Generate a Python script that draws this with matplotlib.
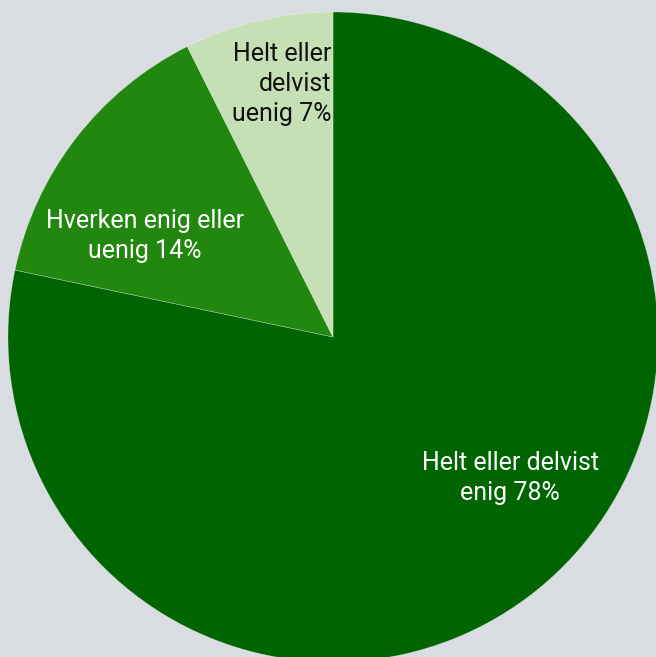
import matplotlib
matplotlib.use("Agg")
import matplotlib.pyplot as plt

categories = ["Helt eller delvist enig", "Hverken enig eller uenig", "Helt eller delvist uenig"]
values = [78.3, 14.3, 7.4]
labels = ["Helt eller delvist\nenig 78%", "Hverken enig eller\nuenig 14%", "Helt eller\ndelvist\nuenig 7%"]
colors = ["#006400", "#22870f", "#c5e0b4"]
text_colors = ["white", "white", "#111111"]

plt.rcParams['font.family'] = ['Roboto', 'DejaVu Sans']
bg = "#d9dde1"
fig = plt.figure(figsize=(6.56, 6.57), dpi=100, facecolor=bg)
ax = fig.add_axes([0, 0, 1, 1])
ax.set_facecolor(bg)

cx, cy, r = 333, 657 - 337, 325
wedges, _ = ax.pie(values, colors=colors, startangle=90, counterclock=False,
                   center=(cx, cy), radius=r, frame=True,
                   wedgeprops=dict(edgecolor=(1, 1, 1, 0.35), linewidth=0.5))
ax.set_xlim(0, 656)
ax.set_ylim(0, 657)
ax.set_aspect('equal')
ax.axis('off')

pos = [(510, 657 - 478, 'center'), (145, 657 - 236, 'center'), (331, 657 - 84, 'right')]
for lab, tc, (x, y, ha) in zip(labels, text_colors, pos):
    ax.text(x, y, lab, color=tc, fontsize=18, ha=ha, va='center',
            multialignment=ha, linespacing=1.32)

fig.savefig("out.png", dpi=100, facecolor=bg)
